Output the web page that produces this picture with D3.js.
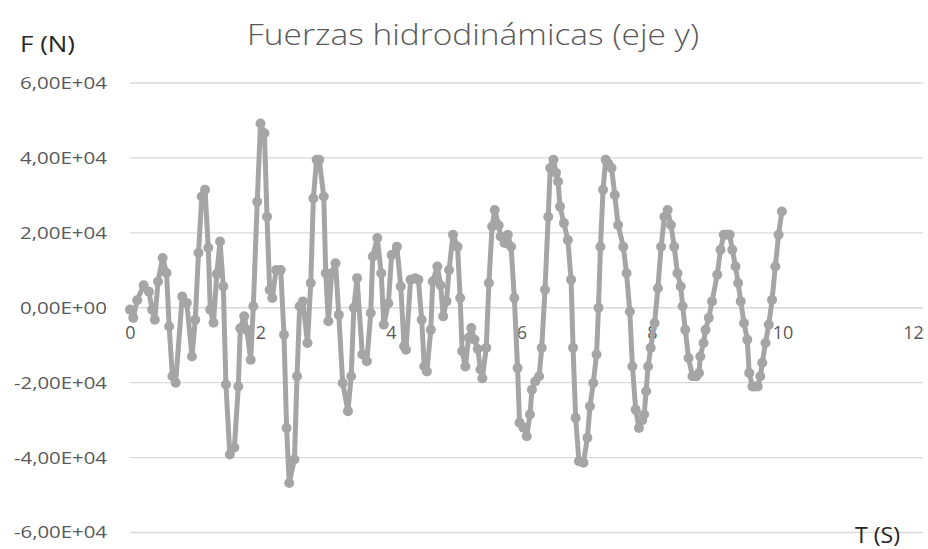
<!DOCTYPE html>
<html>
<head>
<meta charset="utf-8">
<script src="https://cdn.jsdelivr.net/npm/d3@7"></script>
<style>
  html, body { margin: 0; padding: 0; background: #fff; }
  svg { display: block; }
</style>
</head>
<body>
<svg id="chart" width="928" height="549"></svg>
<script>
const title = "Fuerzas hidrodinámicas (eje y)";
const yAxisTitle = "F (N)";
const xAxisTitle = "T (S)";
const xTicks = [0, 2, 4, 6, 8, 10, 12];
const yTicks = [-60000, -40000, -20000, 0, 20000, 40000, 60000];
const yTickLabels = ["-6,00E+04", "-4,00E+04", "-2,00E+04", "0,00E+00", "2,00E+04", "4,00E+04", "6,00E+04"];

// time (s)
const timeS = [
  0.00,0.05,0.11,0.21,0.29,0.34,0.38,0.43,0.50,0.56,0.60,0.65,0.70,0.80,0.87,0.95,1.00,1.05,1.10,1.15,
  1.20,1.23,1.28,1.33,1.38,1.43,1.47,1.53,1.60,1.66,1.69,1.75,1.79,1.85,1.89,1.95,2.00,2.06,2.10,2.14,
  2.18,2.24,2.31,2.36,2.40,2.44,2.52,2.56,2.60,2.65,2.72,2.77,2.81,2.86,2.90,2.97,3.00,3.04,3.09,3.15,
  3.20,3.26,3.34,3.39,3.43,3.48,3.56,3.63,3.69,3.72,3.79,3.85,3.89,3.96,4.01,4.09,4.15,4.20,4.23,4.30,
  4.37,4.42,4.47,4.51,4.55,4.61,4.64,4.71,4.76,4.80,4.85,4.89,4.95,5.02,5.06,5.09,5.14,5.19,5.23,5.28,
  5.33,5.37,5.40,5.46,5.50,5.55,5.59,5.65,5.68,5.74,5.79,5.84,5.89,5.94,5.97,6.03,6.08,6.13,6.16,6.21,
  6.27,6.31,6.36,6.41,6.44,6.49,6.53,6.56,6.59,6.65,6.71,6.76,6.79,6.83,6.88,6.95,7.01,7.05,7.10,7.15,
  7.18,7.21,7.25,7.29,7.33,7.38,7.43,7.48,7.56,7.61,7.66,7.70,7.75,7.80,7.85,7.88,7.91,7.94,7.98,8.04,
  8.09,8.14,8.19,8.24,8.29,8.34,8.39,8.44,8.47,8.51,8.56,8.62,8.68,8.72,8.74,8.79,8.82,8.87,8.92,9.00,
  9.05,9.10,9.15,9.19,9.23,9.28,9.32,9.36,9.41,9.46,9.49,9.54,9.58,9.62,9.66,9.69,9.74,9.79,9.84,9.89,
  9.94,9.99
];
// force (N)
const forceN = [
  -500,-2700,2000,6000,4300,-500,-3200,7000,13300,9300,-5000,-18300,-20000,3000,1300,-13000,-3200,14700,29700,31500,
  16000,-500,-4000,9000,17700,5700,-20500,-39200,-37300,-21000,-5500,-2300,-5900,-13900,400,28300,49200,46600,24300,4800,
  2600,10100,10100,-7200,-32100,-46800,-40500,-18300,400,1700,-9400,6600,29200,39500,39500,29700,9200,-3600,9200,11900,
  -1900,-20100,-27600,-18300,0,7900,-12500,-14300,-1400,13700,18600,9200,-4500,1200,14100,16300,5700,-10300,-11200,7500,
  7900,7500,-3200,-15700,-17000,-5900,7000,11000,6000,-2300,1700,10100,19500,16300,2600,-11600,-15700,-8000,-5400,-8500,
  -11000,-16500,-18800,-10700,6600,21700,26100,22000,19000,17300,19500,16300,2600,-16100,-30700,-32000,-34300,-28500,-21900,-19700,
  -18300,-10700,4800,24300,37300,39500,36000,33700,27000,22600,18100,7500,-10700,-29400,-41000,-41400,-34700,-26300,-20100,-12500,
  0,16300,31500,39500,38500,37300,30100,22100,16300,9200,-1000,-15700,-27200,-32100,-30000,-28500,-22300,-15700,-10700,-4100,
  5200,16300,24300,26100,22100,16300,9200,5700,400,-5900,-13400,-18300,-18300,-17400,-13000,-9400,-5900,-2700,1700,8800,
  15500,19500,19500,19500,15500,11000,6600,1700,-4100,-8500,-17400,-21000,-21000,-21000,-18300,-14700,-9400,-4500,2100,11000,
  19500,25700
];

const W = 928, H = 549;
const svg = d3.select("#chart");

const x = d3.scaleLinear().domain([0, 12]).range([130, 913]);
const y = d3.scaleLinear().domain([-60000, 60000]).range([532.5, 83]);

const gridColor = "#d9d9d9";
const textColor = "#595959";
const seriesColor = "#a5a5a5";
const font = "'Open Sans', 'Liberation Sans', sans-serif";

// horizontal gridlines
svg.append("g")
  .selectAll("line")
  .data(yTicks)
  .join("line")
  .attr("x1", x(0))
  .attr("x2", 923)
  .attr("y1", d => y(d))
  .attr("y2", d => y(d))
  .attr("stroke", gridColor)
  .attr("stroke-width", 1.3);

// y tick labels
svg.append("g")
  .selectAll("text")
  .data(yTicks)
  .join("text")
  .attr("x", 107)
  .attr("y", d => y(d))
  .attr("dy", "0.35em")
  .attr("text-anchor", "end")
  .attr("font-family", font)
  .attr("font-size", 17)
  .attr("fill", textColor)
  .attr("textLength", d => d < 0 ? 93 : 87)
  .attr("lengthAdjust", "spacingAndGlyphs")
  .text((d, i) => yTickLabels[i]);

// x axis via d3 axis placed at y=0
const xAxis = d3.axisBottom(x).tickValues(xTicks).tickSize(0).tickPadding(24).tickFormat(d3.format("d"));
const gx = svg.append("g").attr("transform", `translate(0,${y(0)})`).call(xAxis);
gx.select(".domain").remove();
gx.selectAll("text")
  .attr("font-family", font)
  .attr("font-size", 18)
  .attr("dy", "0.4em")
  .attr("fill", textColor);

// series line
const pts = timeS.map((t, i) => [t, forceN[i]]);
const line = d3.line().x(d => x(d[0])).y(d => y(d[1]));
svg.append("path")
  .datum(pts)
  .attr("d", line)
  .attr("fill", "none")
  .attr("stroke", seriesColor)
  .attr("stroke-width", 5)
  .attr("stroke-linejoin", "round");

svg.append("g")
  .selectAll("circle")
  .data(pts)
  .join("circle")
  .attr("cx", d => x(d[0]))
  .attr("cy", d => y(d[1]))
  .attr("r", 5)
  .attr("fill", seriesColor);

// titles
svg.append("text")
  .attr("x", 473)
  .attr("y", 45)
  .attr("text-anchor", "middle")
  .attr("font-family", font)
  .attr("font-weight", 300)
  .attr("font-size", 30)
  .attr("fill", textColor)
  .attr("textLength", 452)
  .attr("lengthAdjust", "spacingAndGlyphs")
  .text(title);

svg.append("text")
  .attr("x", 20)
  .attr("y", 52)
  .attr("font-family", font)
  .attr("font-size", 22)
  .attr("fill", "#262626")
  .attr("textLength", 55)
  .attr("lengthAdjust", "spacingAndGlyphs")
  .text(yAxisTitle);

svg.append("text")
  .attr("x", 855)
  .attr("y", 543)
  .attr("font-family", font)
  .attr("font-size", 21)
  .attr("fill", "#262626")
  .attr("textLength", 45)
  .attr("lengthAdjust", "spacingAndGlyphs")
  .text(xAxisTitle);
</script>
</body>
</html>
